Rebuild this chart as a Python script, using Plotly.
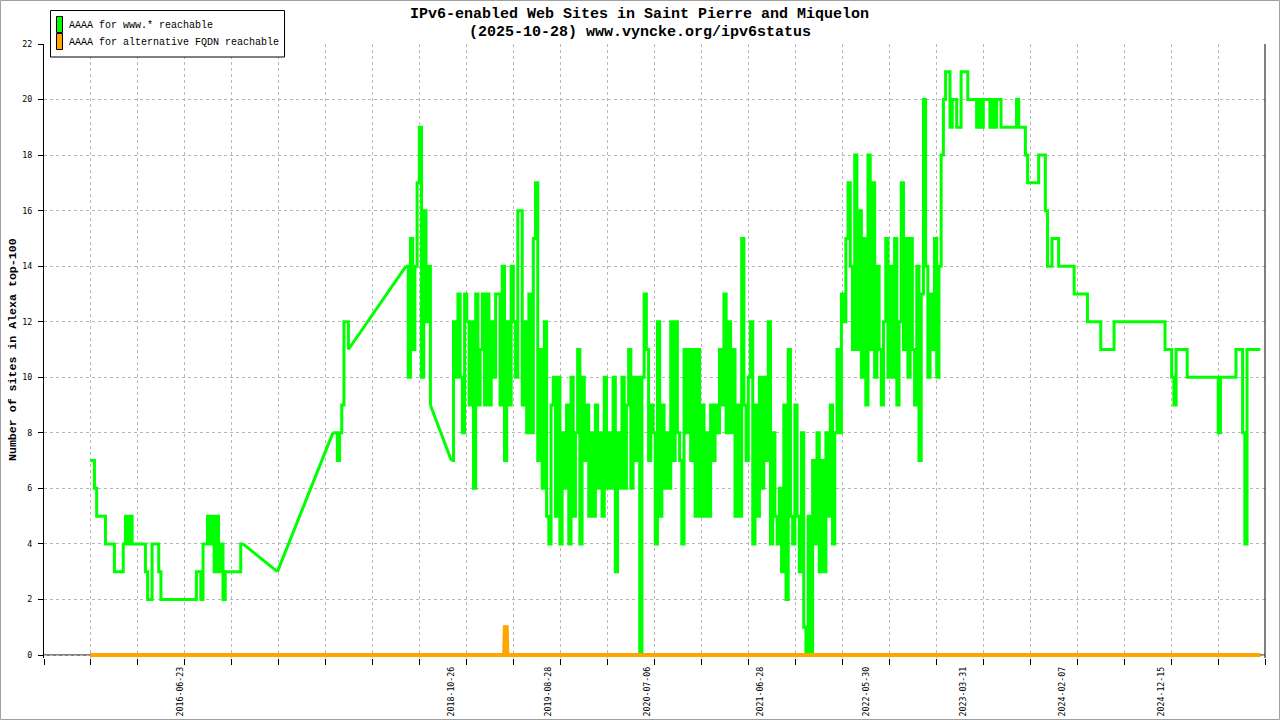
import pandas as pd
import plotly.graph_objects as go

# ---------------- text ----------------
TITLE_1 = "IPv6-enabled Web Sites in Saint Pierre and Miquelon"
TITLE_2 = "(2025-10-28) www.vyncke.org/ipv6status"
Y_TITLE = "Number of sites in Alexa top-100"
LEGEND_NAMES = ["AAAA for www.* reachable", "AAAA for alternative FQDN reachable"]

# ---------------- data ----------------
STEP = "7D"  # readings taken roughly once a week

# www.* reachable : segment 1 (weekly from start)
WWW_A_START = "2015-09-12"
WWW_A = [7, 7, 6, 5, 5, 5, 5, 4, 4, 4, 4, 3, 3, 3, 3, 4, 5, 4, 5, 4,
         4, 4, 4, 4, 4, 3, 2, 2, 4, 4, 4, 3, 2, 2, 2, 2, 2, 2, 2, 2,
         2, 2, 2, 2, 2, 2, 2, 2, 3, 3, 2, 4, 4, 5, 4, 5, 3, 5, 3, 4,
         2, 3, 3, 3, 3, 3, 3, 3, 4, 4]
# isolated reading
WWW_B_START = "2017-04-26"
WWW_B = [3]
# segment 3
WWW_C_START = "2017-10-18"
WWW_C = [8, 8, 7, 8, 9, 12, 12, 11]
# segment 4
WWW_D_START = "2018-06-06"
WWW_D = [14, 10, 15, 11, 14, 17, 19, 10, 16, 12, 14, 9]
# segment 5 (weekly until today)
WWW_E_START = "2018-10-27"
WWW_E = [7,
         12, 10, 13, 10, 8, 13, 12, 9, 12, 6,
         13, 9, 11, 13, 9, 13, 9, 12, 10, 13,
         13, 9, 14, 7, 12, 9, 14, 12, 10, 16,
         16, 9, 12, 8, 13, 8, 15, 17, 7, 11,
         6, 12, 5, 4, 9, 10, 5, 10, 4, 8,
         6, 9, 4, 10, 5, 8, 11, 4, 10, 7,
         9, 5, 8, 5, 9, 6, 8, 5, 10, 6,
         8, 6, 10, 3, 8, 6, 10, 6, 9, 11,
         6, 10, 7, 10, 0, 10, 13, 11, 7, 9,
         8, 4, 12, 5, 9, 6, 8, 6, 12, 7,
         12, 8, 7, 4, 11, 8, 11, 7, 11, 5,
         11, 5, 9, 5, 8, 5, 9, 7, 9, 8,
         11, 9, 13, 8, 12, 8, 11, 5, 9, 5,
         15, 9, 7, 10, 12, 4, 9, 5, 10, 6,
         10, 7, 12, 4, 8, 5, 4, 6, 3, 9,
         2, 11, 5, 4, 9, 5, 3, 8, 1, 0,
         5, 0, 7, 4, 8, 3, 7, 3, 8, 5,
         9, 4, 8, 11, 8, 13, 12, 15, 17, 14,
         11, 18, 11, 16, 10, 15, 9, 18, 11, 17,
         10, 14, 11, 9, 12, 15, 10, 14, 10, 15,
         9, 12, 17, 11, 15, 10, 15, 11, 9, 14,
         7, 13, 20, 14, 10, 13, 11, 15, 10, 14,
         18, 20, 21, 21, 19, 20, 20, 19, 19, 21,
         21, 21, 20, 20, 20, 20, 19, 20, 19, 20,
         20, 20, 19, 20, 19, 20, 20, 19, 19, 19,
         19, 19, 19, 19, 20, 19, 19, 19, 18, 17,
         17, 17, 17, 17, 18, 18, 18, 16, 14, 14,
         15, 15, 15, 14, 14, 14, 14, 14, 14, 14,
         13, 13, 13, 13, 13, 13, 12, 12, 12, 12,
         12, 12, 11, 11, 11, 11, 11, 11, 12, 12,
         12, 12, 12, 12, 12, 12, 12, 12, 12, 12,
         12, 12, 12, 12, 12, 12, 12, 12, 12, 12,
         12, 11, 11, 11, 10, 9, 11, 11, 11, 11,
         11, 10, 10, 10, 10, 10, 10, 10, 10, 10,
         10, 10, 10, 10, 10, 8, 10, 10, 10, 10,
         10, 10, 10, 11, 11, 11, 8, 4, 11, 11,
         11, 11, 11, 11, 11]

# alternative FQDN reachable
ALT_DATES = ["2015-09-12", "2019-04-12", "2019-04-14", "2019-04-20", "2019-04-22", "2025-10-26"]
ALT_VALUES = [0, 0, 1, 1, 0, 0]

# axes
X_TICK_DATES = ["2016-06-23", "2018-10-26", "2019-08-28", "2020-07-06", "2021-06-28",
                "2022-05-30", "2023-03-31", "2024-02-07", "2024-12-15"]
X_RANGE = ["2015-04-19 17:00", "2025-11-08 17:00"]
X_GRID_COUNT = 27
Y_TICKS = [0, 2, 4, 6, 8, 10, 12, 14, 16, 18, 20, 22]
Y_RANGE = [-0.108, 22]

GREEN = "#00ff00"
ORANGE = "#ffa500"
GRID = "#b8b8b8"
MONO = "Liberation Mono, DejaVu Sans Mono, monospace"
TICKFONT = "DejaVu Sans Mono, Liberation Mono, monospace"

segments = [(WWW_A_START, WWW_A), (WWW_B_START, WWW_B), (WWW_C_START, WWW_C),
            (WWW_D_START, WWW_D), (WWW_E_START, WWW_E)]
seg_x = [list(pd.date_range(start=s, periods=len(v), freq=STEP)) for s, v in segments]
seg_y = [list(v) for s, v in segments]

fig = go.Figure()
# gaps without readings: straight connection between neighbouring segments
gx, gy = [], []
for i in range(len(segments) - 1):
    gx += [seg_x[i][-1], seg_x[i + 1][0], None]
    gy += [seg_y[i][-1], seg_y[i + 1][0], None]
fig.add_trace(go.Scatter(x=gx, y=gy, mode="lines", line=dict(color=GREEN, width=3),
                         showlegend=False, hoverinfo="skip"))
for xs, ys in zip(seg_x, seg_y):
    fig.add_trace(go.Scatter(x=xs, y=ys, mode="lines", name=LEGEND_NAMES[0],
                             line=dict(color=GREEN, width=3, shape="hv"), showlegend=False))
fig.add_trace(go.Scatter(x=ALT_DATES, y=ALT_VALUES, mode="lines", name=LEGEND_NAMES[1],
                         line=dict(color=ORANGE, width=4), showlegend=False))

# plot area: x 44..1265, y 44..658 (y=0 sits at 655)
L, R, T, B = 44, 15, 44, 62
PW, PH = 1280 - L - R, 720 - T - B


def px(x):
    return (x - L) / PW


def py(y):
    return (720 - B - y) / PH


fig.update_layout(
    width=1280, height=720, autosize=False,
    margin=dict(l=L, r=R, t=T, b=B, autoexpand=False),
    paper_bgcolor="white", plot_bgcolor="white",
    showlegend=False,
    xaxis=dict(
        type="date", range=X_RANGE, automargin=False,
        tickmode="array", tickvals=X_TICK_DATES, ticktext=X_TICK_DATES,
        tickangle=-90, ticks="", showgrid=False, zeroline=False,
        showline=False, ticklabelstandoff=6,
        tickfont=dict(family=TICKFONT, size=8.3, color="black"),
        minor=dict(tickmode="array",
                   tickvals=[d.strftime("%Y-%m-%d %H:%M") for d in
                             pd.date_range(X_RANGE[0], X_RANGE[1], periods=X_GRID_COUNT)],
                   ticks="outside", ticklen=6, tickcolor="black", tickwidth=1,
                   showgrid=True, gridcolor=GRID, griddash="dot", gridwidth=1),
    ),
    yaxis=dict(
        range=Y_RANGE, tickmode="array", tickvals=Y_TICKS, automargin=False,
        ticks="outside", ticklen=5, tickcolor="black", ticklabelstandoff=4,
        showgrid=True, gridcolor=GRID, griddash="dot", gridwidth=1,
        zeroline=False, showline=True, linecolor="black", linewidth=1,
        tickfont=dict(family=TICKFONT, size=8.3, color="black"),
    ),
    yaxis2=dict(
        range=Y_RANGE, overlaying="y", side="right", tickmode="array", tickvals=Y_TICKS,
        ticks="inside", ticklen=5, tickcolor="black", showticklabels=False, automargin=False,
        showgrid=False, zeroline=False, showline=True, linecolor="black", linewidth=1,
    ),
)

shapes = [
    dict(type="line", xref="paper", yref="y", x0=0, x1=1, y0=0, y1=0,
         line=dict(color="black", width=1), layer="below"),
    dict(type="line", xref="paper", yref="paper", x0=1, x1=1, y0=0, y1=1,
         line=dict(color="black", width=1)),
    dict(type="rect", xref="paper", yref="paper", x0=px(0.5), x1=px(1279.5),
         y0=py(719.5), y1=py(0.5), line=dict(color="#a0a0a0", width=1)),
    dict(type="rect", xref="paper", yref="paper", x0=px(50.5), x1=px(284.5),
         y0=py(57), y1=py(10.5), line=dict(color="black", width=1), fillcolor="white"),
    dict(type="rect", xref="paper", yref="paper", x0=px(56.5), x1=px(62.5),
         y0=py(32.5), y1=py(16.5), line=dict(color="black", width=1), fillcolor=GREEN),
    dict(type="rect", xref="paper", yref="paper", x0=px(56.5), x1=px(62.5),
         y0=py(49.5), y1=py(33.5), line=dict(color="black", width=1), fillcolor=ORANGE),
]
fig.update_layout(shapes=shapes)

annotations = [
    dict(text="<b>" + TITLE_1 + "</b>", x=px(639.5), y=py(15), xref="paper", yref="paper",
         showarrow=False, xanchor="center", yanchor="middle",
         font=dict(family=MONO, size=15, color="black")),
    dict(text="<b>" + TITLE_2 + "</b>", x=px(639.5), y=py(33), xref="paper", yref="paper",
         showarrow=False, xanchor="center", yanchor="middle",
         font=dict(family=MONO, size=15, color="black")),
    dict(text="<b>" + Y_TITLE + "</b>", x=px(12), y=py(350), xref="paper", yref="paper",
         showarrow=False, xanchor="center", yanchor="middle", textangle=-90,
         font=dict(family=MONO, size=11.6, color="black")),
    dict(text=LEGEND_NAMES[0], x=px(67), y=py(25.5), xref="paper", yref="paper",
         showarrow=False, xanchor="left", yanchor="middle",
         font=dict(family=MONO, size=10, color="black")),
    dict(text=LEGEND_NAMES[1], x=px(67), y=py(42.5), xref="paper", yref="paper",
         showarrow=False, xanchor="left", yanchor="middle",
         font=dict(family=MONO, size=10, color="black")),
]
fig.update_layout(annotations=annotations)

fig.write_html("out.html",
               config={"displayModeBar": False, "responsive": False},
               post_script="document.documentElement.style.overflow='hidden';"
                           "document.body.style.margin='0';"
                           "document.body.style.overflow='hidden';")
